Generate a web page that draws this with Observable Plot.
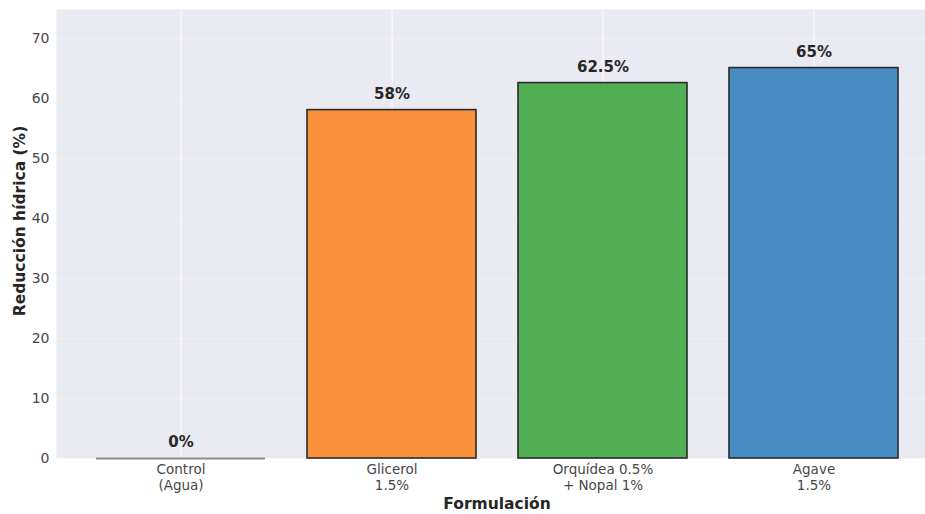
<!DOCTYPE html>
<html>
<head>
<meta charset="utf-8">
<script src="https://cdn.jsdelivr.net/npm/d3@7"></script>
<script src="https://cdn.jsdelivr.net/npm/@observablehq/plot@0.6"></script>
<style>
  html, body { margin: 0; padding: 0; background: white; }
</style>
</head>
<body>
<div id="chart"></div>
<script>
const categories = ["Control\n(Agua)", "Glicerol\n1.5%", "Orquídea 0.5%\n+ Nopal 1%", "Agave\n1.5%"];
const values = [0, 58, 62.5, 65];
const valueLabels = ["0%", "58%", "62.5%", "65%"];
const yTicks = [0, 10, 20, 30, 40, 50, 60, 70];
const barColors = ["#8c8c8c", "#f9913c", "#52ae55", "#488dc1"];
const edgeColors = ["#8c8c8c", "#2a2a2a", "#2a2a2a", "#2a2a2a"];

const data = categories.map((c, i) => ({cat: c, value: values[i], label: valueLabels[i], i}));

const chart = Plot.plot({
  width: 925,
  height: 514,
  marginLeft: 56,
  marginRight: 0,
  marginTop: 9,
  marginBottom: 56,
  style: {fontFamily: "DejaVu Sans", fontSize: "13px", color: "#474747", background: "white"},
  x: {domain: categories, range: [75, 919], paddingInner: 0.2, paddingOuter: 0.1, label: null},
  y: {domain: [0, 74.75], label: null},
  marks: [
    Plot.frame({fill: "#eaeaf2", stroke: "none"}),
    Plot.ruleY(yTicks, {stroke: "white", strokeOpacity: 0.3, strokeWidth: 1}),
    Plot.ruleX(categories, {x: d => d, stroke: "white", strokeWidth: 1}),
    Plot.barY(data.filter(d => d.value > 0), {
      x: "cat", y: "value",
      fill: d => barColors[d.i],
      stroke: d => edgeColors[d.i],
      strokeWidth: 1.6
    }),
    Plot.tickY(data.filter(d => d.value === 0), {
      x: "cat", y: "value",
      stroke: d => edgeColors[d.i],
      strokeWidth: 1.8
    }),
    Plot.text(data, {
      x: "cat", y: "value", text: "label",
      dy: -16, lineAnchor: "middle",
      fontWeight: "bold", fontSize: 15, fill: "#262626"
    }),
    Plot.axisY({ticks: yTicks, tickSize: 0, tickPadding: 7, fontSize: 14, label: null}),
    Plot.axisX({tickSize: 0, tickPadding: 4, fontSize: 13.5, label: null, lineHeight: 1.18}),
    Plot.text(["Reducción hídrica (%)"], {
      frameAnchor: "left", rotate: -90, dx: -36, dy: -13,
      textAnchor: "middle", lineAnchor: "middle",
      fontWeight: "bold", fontSize: 15.5, fill: "#262626"
    }),
    Plot.text(["Formulación"], {
      frameAnchor: "bottom", dx: 6, dy: 46, lineAnchor: "middle",
      fontWeight: "bold", fontSize: 15.5, fill: "#262626"
    })
  ]
});

document.getElementById("chart").append(chart);
</script>
</body>
</html>
